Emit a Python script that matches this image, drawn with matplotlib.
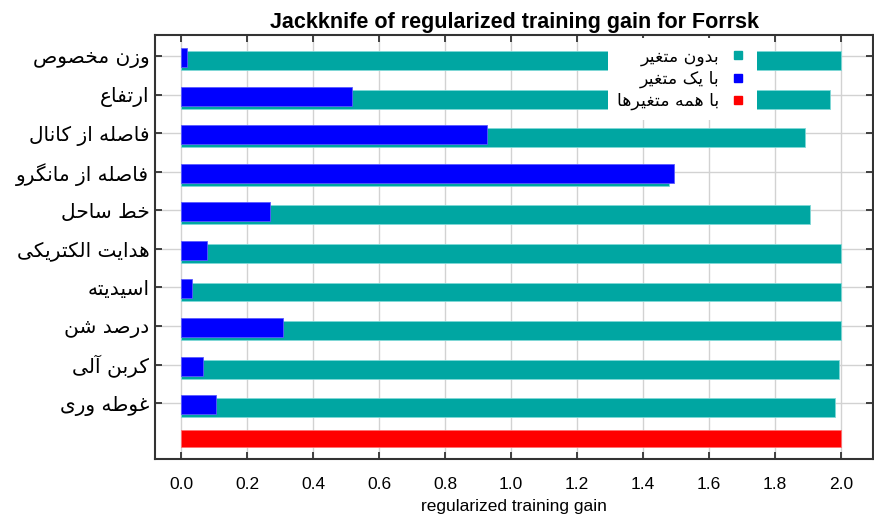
import matplotlib
matplotlib.use("Agg")
import matplotlib.pyplot as plt
from matplotlib.lines import Line2D
import numpy as np

# ---------------- data ----------------
variables = ['وزن مخصوص', 'ارتفاع', 'فاصله از کانال', 'فاصله از مانگرو', 'خط ساحل',
             'هدایت الکتریکی', 'اسیدیته', 'درصد شن', 'کربن آلی', 'غوطه وری']
without_variable = [2.00, 1.967, 1.891, 1.48, 1.906, 2.00, 2.00, 2.00, 1.994, 1.982]
only_variable = [0.018, 0.517, 0.926, 1.495, 0.269, 0.079, 0.033, 0.309, 0.067, 0.106]
all_variables = 2.00
legend_labels = ['بدون متغیر', 'با یک متغیر', 'با همه متغیرها']
xticks = [0.0, 0.2, 0.4, 0.6, 0.8, 1.0, 1.2, 1.4, 1.6, 1.8, 2.0]
title = 'Jackknife of regularized training gain for Forrsk'
xlabel = 'regularized training gain'

C_WITHOUT = '#00a6a2'
C_ONLY = '#0000ff'
C_ALL = '#ff0000'

# ---------- Arabic-script shaping (presentation forms) ----------
_dual = {'\u0628': 0xFE8F, '\u062A': 0xFE95, '\u062B': 0xFE99, '\u062C': 0xFE9D,
         '\u062D': 0xFEA1, '\u062E': 0xFEA5, '\u0633': 0xFEB1, '\u0634': 0xFEB5,
         '\u0635': 0xFEB9, '\u0636': 0xFEBD, '\u0637': 0xFEC1, '\u0638': 0xFEC5,
         '\u0639': 0xFEC9, '\u063A': 0xFECD, '\u0641': 0xFED1, '\u0642': 0xFED5,
         '\u0643': 0xFED9, '\u0644': 0xFEDD, '\u0645': 0xFEE1, '\u0646': 0xFEE5,
         '\u0647': 0xFEE9, '\u064A': 0xFEF1, '\u06CC': 0xFBFC, '\u06A9': 0xFB8E,
         '\u06AF': 0xFB92, '\u067E': 0xFB56, '\u0686': 0xFB7A}
_right = {'\u0622': 0xFE81, '\u0627': 0xFE8D, '\u062F': 0xFEA9, '\u0630': 0xFEAB,
          '\u0631': 0xFEAD, '\u0632': 0xFEAF, '\u0648': 0xFEED, '\u0698': 0xFB8A}
FORMS = {}
for k, b in _dual.items():
    FORMS[k] = (b, b + 1, b + 2, b + 3)
for k, b in _right.items():
    FORMS[k] = (b, b + 1, None, None)


def shape(s):
    out = []
    for i, c in enumerate(s):
        if c not in FORMS:
            out.append(c)
            continue
        f = FORMS[c]
        prev = s[i - 1] if i > 0 else None
        nxt = s[i + 1] if i + 1 < len(s) else None
        jp = prev in FORMS and FORMS[prev][2] is not None
        jn = f[2] is not None and nxt in FORMS
        if jp and jn:
            code = f[3]
        elif jp:
            code = f[1]
        elif jn:
            code = f[2]
        else:
            code = f[0]
        out.append(chr(code))
    return ''.join(out)[::-1]


# ---------------- figure ----------------
fig = plt.figure(figsize=(8.74, 5.15), dpi=100)
ax = fig.add_axes([155 / 874, 1 - 459 / 515, 718 / 874, (459 - 35) / 515])

n = len(variables)
ypos = np.arange(n)
h = 0.49
ax.barh(ypos + 0.12, without_variable, height=h, color=C_WITHOUT, zorder=2,
        edgecolor='#7fd8d6', linewidth=0.6)
ax.barh(ypos + 0.04, only_variable, height=h, color=C_ONLY, zorder=3,
        edgecolor='#5a5aff', linewidth=0.6)
ax.barh([n - 0.08], [all_variables], height=0.44, color=C_ALL, zorder=2,
        edgecolor='#ff7070', linewidth=0.6)

ax.set_xlim(-0.079, 2.097)
ax.set_ylim(n + 0.45, -0.545)

ax.set_xticks(xticks)
ax.set_xticklabels([f'{t:.1f}' for t in xticks], family=['Liberation Sans'], fontsize=12.5)
ax.set_yticks(ypos)
ax.set_yticklabels([shape(v) for v in variables], family=['DejaVu Sans'], fontsize=14.5)

ax.tick_params(axis='both', which='both', direction='in', top=True, right=True,
               length=5, width=1.3, color='#333333')
ax.tick_params(axis='x', pad=13)
ax.tick_params(axis='y', pad=4)

ax.grid(True, color='#d2d2d2', linewidth=1.0, zorder=0)
ax.set_axisbelow(True)
for sp in ax.spines.values():
    sp.set_color('#333333')
    sp.set_linewidth(1.5)

ax.set_title(title, family=['Liberation Sans'], fontweight='bold', fontsize=15.5, pad=5)
ax.set_xlabel(xlabel, family=['Liberation Sans'], fontsize=12.5, labelpad=5)

handles = [Line2D([], [], marker='s', linestyle='none', markersize=6,
                  markerfacecolor=c, markeredgecolor=c)
           for c in (C_WITHOUT, C_ONLY, C_ALL)]
leg = ax.legend(handles, [shape(l) for l in legend_labels], loc='upper right',
                bbox_to_anchor=(0.838, 0.993), markerfirst=False, frameon=True,
                fancybox=False, framealpha=1, edgecolor='none', facecolor='white',
                prop={'family': 'DejaVu Sans', 'size': 12.5}, handlelength=1.0,
                handletextpad=0.6, labelspacing=0.22, borderpad=0.55, borderaxespad=0)
leg.set_zorder(5)

fig.savefig('out.png', dpi=100)
